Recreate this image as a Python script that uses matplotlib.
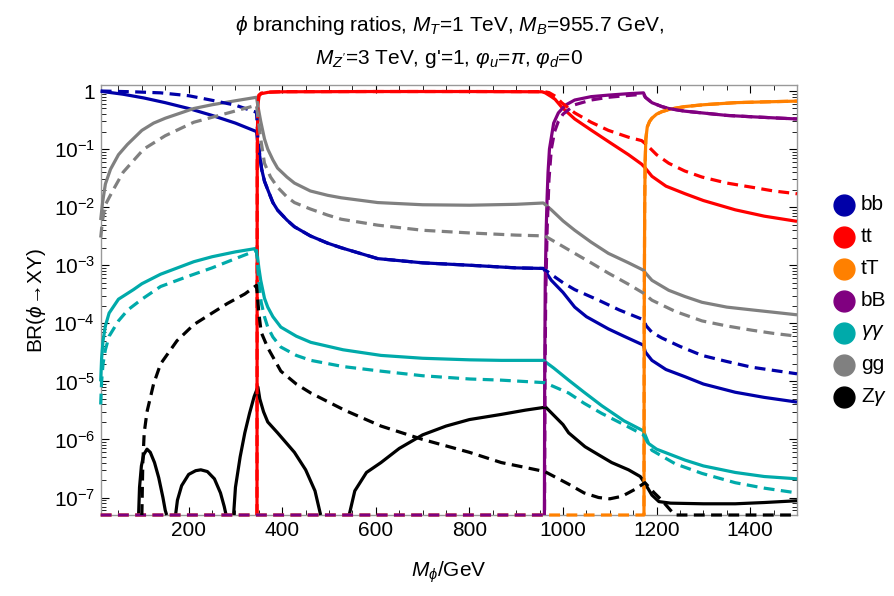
import matplotlib
matplotlib.use("Agg")
import matplotlib.pyplot as plt
from matplotlib.lines import Line2D
from matplotlib.ticker import FixedLocator, LogLocator, NullFormatter

plt.rcParams["font.family"] = ["Liberation Sans", "DejaVu Sans"]
plt.rcParams["mathtext.fontset"] = "custom"
plt.rcParams["mathtext.rm"] = "Liberation Sans"
plt.rcParams["mathtext.it"] = "Liberation Sans:italic"
plt.rcParams["mathtext.fallback"] = "stixsans"

# lower edge of the plot range: zero branching ratios sit on it
FLOOR = 5e-8
M_MIN, M_MAX = 12, 1500

# ---- phi -> b b ----
bb_x = [12, 60, 104, 150, 200, 250, 300, 345, 348, 352, 356, 362, 369, 380, 390,
        410, 426, 460, 497, 526, 604, 700, 800, 900, 958, 975, 1000, 1025, 1050,
        1097, 1130, 1172, 1176, 1190, 1220, 1261, 1300, 1368, 1430, 1500]
bb_y = [0.99, 0.88, 0.76, 0.63, 0.5, 0.38, 0.28, 0.2, 0.12, 0.075, 0.045, 0.028,
        0.02, 0.012, 0.0089, 0.006, 0.0046, 0.0032, 0.0024, 0.002, 0.0013, 0.0011,
        0.001, 0.0009, 0.00088, 0.00055, 0.00034, 0.00019, 0.00013, 8e-5, 6e-5,
        4.2e-5, 3.2e-5, 2.3e-5, 1.6e-5, 1.2e-5, 9e-6, 6.5e-6, 5.3e-6, 4.4e-6]
bb_dash_x = [12, 80, 140, 200, 247, 300, 345, 348, 352, 356, 362, 369, 380, 390,
             410, 426, 460, 497, 526, 604, 700, 800, 900, 958, 980, 1000, 1025,
             1076, 1120, 1172, 1178, 1190, 1211, 1250, 1297, 1350, 1404, 1500]
bb_dash_y = [1.0, 0.97, 0.93, 0.83, 0.7, 0.57, 0.43, 0.15, 0.08, 0.045, 0.028,
             0.02, 0.012, 0.0089, 0.006, 0.0046, 0.0032, 0.0024, 0.002, 0.0013,
             0.0011, 0.001, 0.0009, 0.00088, 0.00065, 0.0005, 0.00038, 0.00025,
             0.00017, 0.000115, 9e-5, 7e-5, 5.6e-5, 4e-5, 2.8e-5, 2.2e-5,
             1.75e-5, 1.35e-5]

# ---- phi -> t t ----
tt_x = [346, 346.5, 347.5, 350, 355, 370, 400, 600, 800, 955, 962, 975, 983, 997,
        1025, 1061, 1100, 1140, 1168, 1175, 1190, 1220, 1261, 1300, 1368, 1430, 1500]
tt_y = [FLOOR, 0.05, 0.5, 0.82, 0.9, 0.95, 0.97, 0.98, 0.98, 0.97, 0.93, 0.8,
        0.72, 0.53, 0.33, 0.21, 0.13, 0.08, 0.055, 0.048, 0.034, 0.023, 0.017,
        0.013, 0.009, 0.007, 0.0057]
tt_dash_x = [346, 346.5, 347.5, 350, 355, 370, 400, 600, 800, 960, 970, 985, 997,
             1025, 1060, 1097, 1140, 1168, 1178, 1200, 1226, 1260, 1297, 1350,
             1404, 1450, 1500]
tt_dash_y = [FLOOR, 0.05, 0.5, 0.85, 0.92, 0.96, 0.975, 0.98, 0.98, 0.975, 0.94,
             0.8, 0.63, 0.42, 0.29, 0.21, 0.16, 0.14, 0.12, 0.08, 0.057, 0.042,
             0.033, 0.026, 0.022, 0.019, 0.017]

# ---- phi -> t T ----
tT_x = [1173, 1173.5, 1174.5, 1175.5, 1177, 1180, 1185, 1190, 1200, 1211, 1230,
        1261, 1300, 1368, 1430, 1500]
tT_y = [FLOOR, 1e-4, 0.01, 0.06, 0.15, 0.24, 0.3, 0.34, 0.4, 0.44, 0.49, 0.54,
        0.58, 0.63, 0.65, 0.67]
tT_dash_x = [12] + tT_x
tT_dash_y = [FLOOR] + tT_y

# ---- phi -> b B ----
bB_x = [960.2, 960.8, 962, 964, 966, 968, 971, 980, 990, 1005, 1025, 1060, 1097,
        1140, 1172, 1176, 1190, 1211, 1226, 1260, 1297, 1350, 1404, 1450, 1500]
bB_y = [FLOOR, 1e-5, 5e-4, 4e-3, 0.015, 0.04, 0.1, 0.28, 0.42, 0.57, 0.7, 0.8,
        0.85, 0.9, 0.93, 0.78, 0.63, 0.54, 0.5, 0.45, 0.42, 0.38, 0.36, 0.345, 0.33]
bB_dash_x = [12, 960.5, 961.5, 963, 966, 970, 975, 982, 990, 1000, 1025, 1060,
             1097, 1140, 1172, 1176, 1190, 1211, 1226, 1260, 1297, 1350, 1404,
             1450, 1500]
bB_dash_y = [FLOOR, FLOOR, 1e-5, 3e-4, 4e-3, 0.03, 0.1, 0.2, 0.3, 0.4, 0.58, 0.7,
             0.78, 0.84, 0.88, 0.78, 0.63, 0.54, 0.5, 0.45, 0.42, 0.38, 0.36,
             0.345, 0.33]

# ---- phi -> gamma gamma ----
aa_x = [12, 14, 17, 22, 30, 50, 82, 100, 140, 211, 250, 300, 345, 350, 354, 362,
        369, 380, 397, 430, 461, 530, 611, 700, 800, 868, 958, 980, 1012, 1045,
        1083, 1130, 1172, 1183, 1200, 1261, 1300, 1368, 1430, 1500]
aa_y = [1e-5, 2.5e-5, 5e-5, 9e-5, 1.5e-4, 2.6e-4, 3.8e-4, 4.8e-4, 7e-4, 1.15e-3,
        1.4e-3, 1.7e-3, 1.95e-3, 9e-4, 5.5e-4, 2.7e-4, 1.9e-4, 1.3e-4, 8.6e-5,
        6e-5, 4.7e-5, 3.5e-5, 2.8e-5, 2.5e-5, 2.35e-5, 2.3e-5, 2.3e-5, 1.7e-5,
        1.05e-5, 6.5e-6, 3.8e-6, 2.1e-6, 1.4e-6, 8.5e-7, 6.8e-7, 4.4e-7, 3.5e-7,
        2.7e-7, 2.3e-7, 2.1e-7]
aa_dash_x = [12, 14, 17, 22, 30, 50, 70, 100, 140, 200, 250, 300, 345, 350, 355,
             362, 369, 380, 397, 430, 461, 530, 611, 700, 800, 868, 961, 1012,
             1045, 1083, 1130, 1172, 1190, 1240, 1297, 1368, 1430, 1500]
aa_dash_y = [4e-6, 1e-5, 2e-5, 3.5e-5, 6e-5, 1.1e-4, 1.7e-4, 2.6e-4, 4.3e-4,
             6.5e-4, 9e-4, 1.3e-3, 1.8e-3, 5e-4, 2.3e-4, 1.3e-4, 8.6e-5, 5.8e-5,
             3.9e-5, 2.8e-5, 2.3e-5, 1.8e-5, 1.5e-5, 1.25e-5, 1.1e-5, 1.05e-5,
             9.5e-6, 6.3e-6, 4.2e-6, 2.8e-6, 1.8e-6, 1.2e-6, 6.5e-7, 3.8e-7,
             2.6e-7, 1.8e-7, 1.45e-7, 1.2e-7]

# ---- phi -> g g ----
gg_x = [12, 16, 22, 33, 50, 69, 100, 125, 150, 211, 250, 300, 345, 348, 354, 362,
        369, 380, 390, 410, 426, 460, 497, 526, 604, 700, 800, 900, 958, 975, 1000,
        1025, 1060, 1097, 1140, 1172, 1176, 1190, 1226, 1260, 1297, 1350, 1404,
        1450, 1500]
gg_y = [0.006, 0.012, 0.025, 0.045, 0.08, 0.12, 0.21, 0.28, 0.34, 0.5, 0.58, 0.68,
        0.78, 0.55, 0.3, 0.15, 0.1, 0.065, 0.047, 0.033, 0.026, 0.019, 0.016,
        0.0145, 0.012, 0.011, 0.0108, 0.0112, 0.0118, 0.009, 0.0058, 0.004,
        0.0025, 0.0016, 0.0011, 0.00082, 0.00074, 0.00055, 0.00037, 0.00029,
        0.00023, 0.00019, 0.00017, 0.000155, 0.00014]
gg_dash_x = [12, 16, 22, 39, 60, 104, 150, 211, 280, 345, 348, 354, 362, 375, 390,
             410, 426, 460, 497, 526, 604, 700, 800, 900, 961, 1000, 1025, 1060,
             1097, 1140, 1172, 1190, 1240, 1297, 1350, 1404, 1450, 1500]
gg_dash_y = [0.003, 0.006, 0.011, 0.02, 0.04, 0.1, 0.17, 0.29, 0.41, 0.57, 0.35,
             0.15, 0.057, 0.033, 0.022, 0.015, 0.012, 0.0093, 0.0073, 0.0062,
             0.0049, 0.004, 0.0036, 0.0033, 0.0032, 0.0021, 0.0016, 0.0011,
             0.00073, 0.00047, 0.00033, 0.00025, 0.00016, 0.00011, 9e-5, 7.6e-5,
             6.7e-5, 6e-5]

# ---- phi -> Z gamma (solid curve dips below the range several times) ----
za_lobes_x = [
    [93, 95, 99, 104, 111, 118, 127, 136, 145, 150, 153],
    [172, 176, 185, 200, 215, 226, 240, 255, 268, 276, 280],
    [296, 300, 310, 320, 330, 340, 348, 352, 360, 369, 390, 426, 450, 470, 482],
    [543, 555, 580, 611, 650, 700, 750, 800, 868, 920, 963, 1000, 1012, 1047,
     1075, 1104, 1140, 1165, 1178, 1190, 1205, 1230, 1300, 1368, 1430, 1500],
]
za_lobes_y = [
    [FLOOR, 1.5e-7, 3.5e-7, 5.5e-7, 6.8e-7, 6e-7, 4e-7, 2.2e-7, 1e-7, 6e-8, FLOOR],
    [FLOOR, 9e-8, 1.6e-7, 2.5e-7, 2.9e-7, 3e-7, 2.8e-7, 2.1e-7, 1.2e-7, 7e-8, FLOOR],
    [FLOOR, 1.5e-7, 5e-7, 1.3e-6, 2.8e-6, 5.5e-6, 8e-6, 5e-6, 3e-6, 2e-6, 1.3e-6,
     6e-7, 3e-7, 1.3e-7, FLOOR],
    [FLOOR, 1.3e-7, 2.7e-7, 4e-7, 7e-7, 1.2e-6, 1.7e-6, 2.2e-6, 2.7e-6, 3.2e-6,
     3.6e-6, 1.8e-6, 1.3e-6, 7.5e-7, 5.5e-7, 4e-7, 3e-7, 2.3e-7, 1.6e-7, 1.1e-7,
     8.5e-8, 8e-8, 7.8e-8, 7.8e-8, 8.2e-8, 8.8e-8],
]
za_dash_x = [100, 102, 105, 111, 125, 140, 175, 211, 250, 283, 320, 345, 350, 355,
             369, 397, 430, 461, 533, 611, 700, 800, 868, 911, 961, 1012, 1045,
             1076, 1100, 1126, 1155, 1175, 1195, 1211, 1230, 1240, 1500]
za_dash_y = [FLOOR, 4e-7, 1.3e-6, 3e-6, 9e-6, 2e-5, 5e-5, 9.5e-5, 1.5e-4, 2.2e-4,
             3.2e-4, 4.5e-4, 1.5e-4, 7e-5, 3.8e-5, 1.5e-5, 9e-6, 6.3e-6, 3.2e-6,
             1.7e-6, 1e-6, 6e-7, 4e-7, 3.4e-7, 2.8e-7, 1.7e-7, 1.2e-7, 1e-7,
             9.5e-8, 1.05e-7, 1.4e-7, 1.8e-7, 1.2e-7, 9e-8, 6e-8, FLOOR, FLOOR]

legend_keys = ["bb", "tt", "tT", "bB", "aa", "gg", "za"]
legend_labels = ["bb", "tt", "tT", "bB", r"$\gamma\gamma$", "gg", r"Z$\gamma$"]
colors = {"bb": "#0000a8", "tt": "#ff0000", "tT": "#ff8000", "bB": "#800080",
          "aa": "#00aaaa", "gg": "#808080", "za": "#000000"}

LW = 2.3
DASH = (3.4, 2.0)
W, H = 895, 596

fig = plt.figure(figsize=(W / 100, H / 100), dpi=100)
ax = fig.add_axes([0.1125, 0.1359, 0.778, 0.7215])


def solid(x, y, c):
    ax.plot(x, y, color=c, lw=LW, solid_capstyle="butt", clip_on=False, zorder=3)


def dashed(x, y, c):
    ax.plot(x, y, color=c, lw=LW, dashes=DASH, dash_capstyle="butt",
            clip_on=False, zorder=4)


solid(bb_x, bb_y, colors["bb"])
solid(tt_x, tt_y, colors["tt"])
solid(tT_x, tT_y, colors["tT"])
solid(bB_x, bB_y, colors["bB"])
solid(aa_x, aa_y, colors["aa"])
solid(gg_x, gg_y, colors["gg"])
for lx, ly in zip(za_lobes_x, za_lobes_y):
    solid(lx, ly, colors["za"])

dashed(bb_dash_x, bb_dash_y, colors["bb"])
dashed(tt_dash_x, tt_dash_y, colors["tt"])
dashed(tT_dash_x, tT_dash_y, colors["tT"])
dashed(bB_dash_x, bB_dash_y, colors["bB"])
dashed(aa_dash_x, aa_dash_y, colors["aa"])
dashed(gg_dash_x, gg_dash_y, colors["gg"])
dashed(za_dash_x, za_dash_y, colors["za"])

ax.set_xlim(M_MIN, M_MAX)
ax.set_yscale("log")
ax.set_ylim(FLOOR, 1.27)

FS = 15
ax.xaxis.set_major_locator(FixedLocator([200, 400, 600, 800, 1000, 1200, 1400]))
ax.xaxis.set_minor_locator(FixedLocator(list(range(50, 1501, 50))))
ax.yaxis.set_major_locator(FixedLocator([10.0 ** k for k in range(-7, 1)]))
ax.yaxis.set_minor_locator(LogLocator(base=10, subs=range(2, 10)))
ax.yaxis.set_minor_formatter(NullFormatter())
ax.set_yticklabels([r"$10^{-%d}$" % k for k in range(7, 0, -1)] + ["1"])
ax.tick_params(which="both", direction="in", top=True, right=True,
               labelsize=FS, colors="black", pad=4)
ax.tick_params(which="major", length=6, width=0.8)
ax.tick_params(which="minor", length=3.5, width=0.6)
for sp in ax.spines.values():
    sp.set_color("#999999")
    sp.set_linewidth(1.0)

ax.set_xlabel(r"$M_\phi$/GeV", fontsize=FS, labelpad=14)
ax.set_ylabel(r"BR($\phi\!\rightarrow\!$XY)", fontsize=FS, labelpad=4)

fig.text(0.502, 0.957, r"$\phi$ branching ratios, $M_T$=1 TeV, $M_B$=955.7 GeV,",
         ha="center", va="center", fontsize=FS)
fig.text(0.502, 0.901, r"$M_{Z'}$=3 TeV, g'=1, $\varphi_u$=$\pi$, $\varphi_d$=0",
         ha="center", va="center", fontsize=FS)

# legend: coloured discs with labels, stacked to the right of the frame
for i, (k, lab) in enumerate(zip(legend_keys, legend_labels)):
    yf = 1 - (205 + i * 32) / H
    fig.add_artist(Line2D([844 / W], [yf], transform=fig.transFigure, ls="none",
                          marker="o", markersize=15, markerfacecolor=colors[k],
                          markeredgecolor=colors[k]))
    fig.text(861 / W, yf, lab, ha="left", va="center", fontsize=FS)

fig.savefig("out.png", dpi=100)
